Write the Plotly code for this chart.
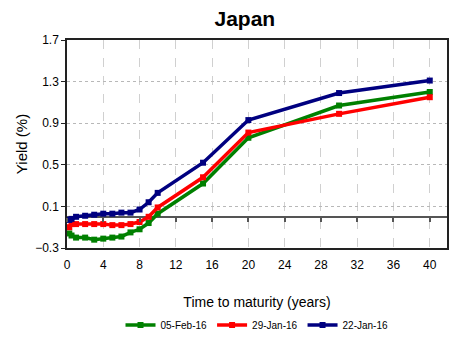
import plotly.graph_objects as go

# Maturities in years
maturity = [0.25, 0.5, 1, 2, 3, 4, 5, 6, 7, 8, 9, 10, 15, 20, 30, 40]

# Yield curves (%)
yld_05feb = [-0.16, -0.18, -0.20, -0.20, -0.22, -0.21, -0.20, -0.19, -0.15, -0.12, -0.06, 0.03, 0.32, 0.76, 1.07, 1.20]
yld_29jan = [-0.10, -0.07, -0.07, -0.07, -0.07, -0.07, -0.08, -0.08, -0.07, -0.05, 0.00, 0.09, 0.38, 0.81, 0.99, 1.15]
yld_22jan = [-0.03, -0.02, 0.00, 0.01, 0.02, 0.03, 0.03, 0.04, 0.04, 0.07, 0.14, 0.23, 0.52, 0.93, 1.19, 1.31]

series = [
    ("05-Feb-16", yld_05feb, "#008000"),
    ("29-Jan-16", yld_29jan, "#FF0000"),
    ("22-Jan-16", yld_22jan, "#000080"),
]

x_ticks = [0, 4, 8, 12, 16, 20, 24, 28, 32, 36, 40]
y_ticks = [-0.3, 0.1, 0.5, 0.9, 1.3, 1.7]
y_range = [-0.3, 1.7]

FONT = "Liberation Sans, Arial, sans-serif"

fig = go.Figure()
for name, vals, color in series:
    fig.add_trace(go.Scatter(
        x=maturity, y=vals, name=name, mode="lines+markers",
        line=dict(color=color, width=3.5),
        marker=dict(symbol="square", size=6, color=color),
    ))

# invisible trace on a secondary axis that carries tick marks along y = 0
fig.add_trace(go.Scatter(x=[0, 40], y=[0, 0], xaxis="x2", mode="lines",
                         line=dict(width=0), showlegend=False, hoverinfo="skip"))

zero_pos = (0 - y_range[0]) / (y_range[1] - y_range[0])

fig.update_layout(
    width=456, height=337,
    margin=dict(l=67, r=9, t=40, b=89, autoexpand=False),
    paper_bgcolor="white", plot_bgcolor="white",
    font=dict(family=FONT, size=12, color="black"),
    title=dict(text="<b>Japan</b>", x=0.468, xref="paper", xanchor="center",
               y=0.945, yanchor="middle", font=dict(family=FONT, size=21)),
    xaxis=dict(
        range=[0, 41.9], tickvals=x_ticks, ticks="", showline=True,
        linecolor="#222", linewidth=1.5, mirror=True, automargin=False,
        showgrid=True, gridcolor="#d0d0d0", griddash="dash", gridwidth=1.2,
        zeroline=False, tickfont=dict(size=12), ticklabelstandoff=5,
        title=dict(text="Time to maturity (years)", font=dict(size=14), standoff=26),
    ),
    xaxis2=dict(
        range=[0, 41.9], tickvals=x_ticks, overlaying="x", anchor="free",
        position=zero_pos, side="bottom", ticks="outside", ticklen=4,
        tickcolor="#555", tickwidth=1.5, showticklabels=False, showline=False,
        showgrid=False, zeroline=False, automargin=False,
    ),
    yaxis=dict(
        range=y_range, tickvals=y_ticks, tickformat=".1f", ticks="outside",
        ticklen=4, tickcolor="#222", showline=True, linecolor="#222",
        linewidth=1.5, mirror=True, showgrid=True, gridcolor="#b8b8b8",
        griddash="dot", gridwidth=1, zeroline=True, zerolinecolor="#555",
        zerolinewidth=1.5, tickfont=dict(size=12), automargin=False,
        title=dict(text="Yield (%)", font=dict(size=15), standoff=4),
    ),
    legend=dict(orientation="h", x=0.5, xanchor="center", y=-0.37,
                yanchor="middle", font=dict(size=10), itemwidth=30,
                traceorder="normal"),
)

fig.write_html("out.html")
